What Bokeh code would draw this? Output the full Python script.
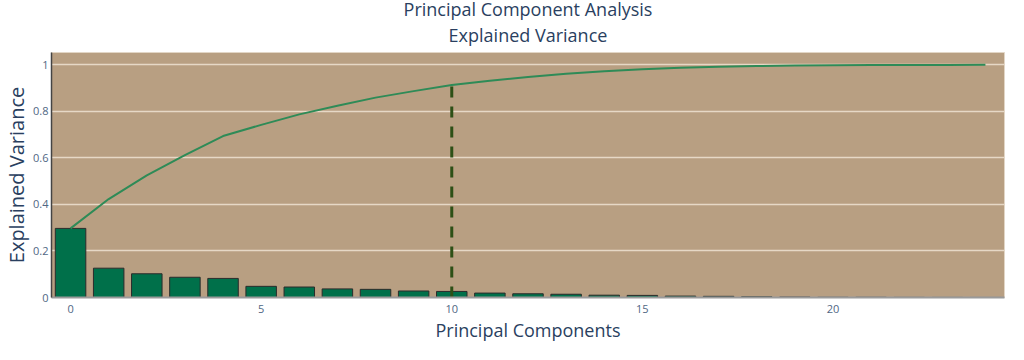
import numpy as np
from bokeh.plotting import figure
from bokeh.models import Title, FixedTicker, Range1d
from bokeh.embed import file_html
from bokeh.resources import INLINE

components = list(range(25))
explained = [0.297, 0.126, 0.102, 0.087, 0.082, 0.048, 0.045, 0.037, 0.035, 0.028,
             0.026, 0.019, 0.016, 0.014, 0.010, 0.009, 0.006, 0.005, 0.003, 0.002,
             0.001, 0.001, 0.0005, 0.0003, 0.0002]
cumulative = list(np.cumsum(explained))
cutoff = 10
x_ticks = [0, 5, 10, 15, 20]
y_ticks = [0, 0.2, 0.4, 0.6, 0.8, 1]
title_lines = ["Principal Component Analysis", "Explained Variance"]
x_title = "Principal Components"
y_title = "Explained Variance"

FONT = "Open Sans"
p = figure(width=1008, height=344, output_backend="svg", toolbar_location=None,
           x_range=Range1d(-0.5, 24.5), y_range=Range1d(0, 1.053),
           min_border_left=51, min_border_right=4, min_border_top=52, min_border_bottom=46)

p.background_fill_color = "#b89f82"
p.border_fill_color = "white"
p.outline_line_color = "#e2d6c6"
p.outline_line_width = 1

p.vbar(x=components, top=explained, width=0.8, fill_color="#00704a",
       line_color="#2b2b2b", line_width=1)
p.line(x=components, y=cumulative, line_color="#2e8b57", line_width=2)
p.segment(x0=[cutoff], y0=[0], x1=[cutoff], y1=[cumulative[cutoff]],
          line_color="#2d5016", line_width=3, line_dash="11 9")

p.xgrid.visible = False
p.ygrid.grid_line_color = "#e6d8c6"
p.ygrid.grid_line_width = 1.5
p.ygrid.ticker = FixedTicker(ticks=y_ticks[1:])

p.xaxis.ticker = FixedTicker(ticks=x_ticks)
p.yaxis.ticker = FixedTicker(ticks=y_ticks)
p.yaxis.major_label_overrides = {0: "0", 1: "1"}
for ax in (p.xaxis, p.yaxis):
    ax.major_tick_line_color = None
    ax.minor_tick_line_color = None
    ax.major_tick_out = 0
    ax.major_tick_in = 0
    ax.major_label_text_font = FONT
    ax.major_label_text_font_size = "11px"
    ax.major_label_text_color = "#506784"
    ax.axis_label_text_font = FONT
    ax.axis_label_text_font_style = "normal"
    ax.axis_label_text_color = "#2a3f5f"
p.yaxis.axis_line_color = "#444444"
p.yaxis.axis_line_width = 1.5
p.xaxis.axis_line_color = "#9a9a9a"
p.xaxis.axis_line_width = 2
p.xaxis.axis_label = x_title
p.yaxis.axis_label = y_title
p.xaxis.axis_label_text_font_size = "18px"
p.yaxis.axis_label_text_font_size = "20px"
p.xaxis.major_label_standoff = 7
p.yaxis.major_label_standoff = 3
p.xaxis.axis_label_standoff = 2
p.yaxis.axis_label_standoff = 0

p.title.visible = False
p.add_layout(Title(text=title_lines[1], align="center", text_font=FONT,
                   text_font_size="18px", text_font_style="normal",
                   text_color="#2a3f5f", standoff=12), "above")
p.add_layout(Title(text=title_lines[0], align="center", text_font=FONT,
                   text_font_size="18px", text_font_style="normal",
                   text_color="#2a3f5f", standoff=-12), "above")

open("out.html", "w").write(file_html(p, INLINE))
